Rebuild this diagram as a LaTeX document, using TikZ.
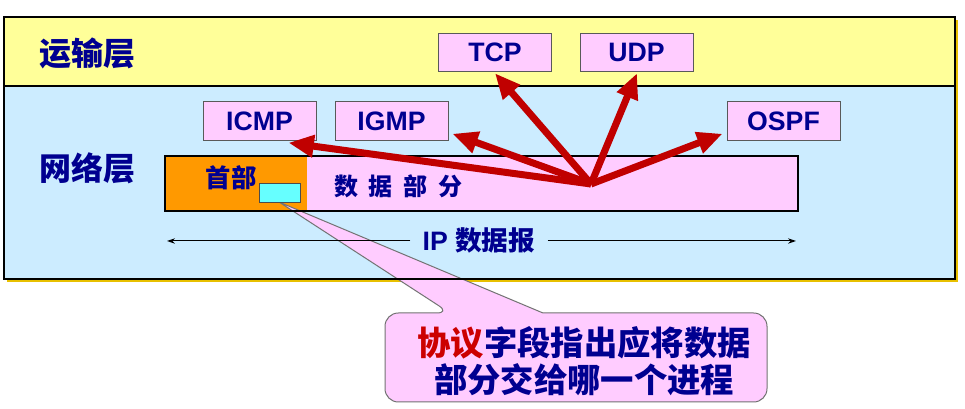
\documentclass[tikz,border=0pt]{standalone}
\usepackage{fontspec}
\setmainfont{Liberation Sans}
\newfontfamily\cjk{Noto Sans CJK SC}
\usetikzlibrary{arrows.meta,calc}
\definecolor{bandyellow}{HTML}{FFFF99}
\definecolor{bandblue}{HTML}{CCECFF}
\definecolor{boxpink}{HTML}{FFCCFF}
\definecolor{hdrorange}{HTML}{FF9900}
\definecolor{fieldcyan}{HTML}{66FFFF}
\definecolor{arrowred}{HTML}{C00000}
\definecolor{navy}{HTML}{000090}
\definecolor{textred}{HTML}{CC0000}
\definecolor{shadowgold}{HTML}{E8C000}
\begin{document}
\begin{tikzpicture}[x=0.75pt,y=-0.75pt,
  protobox/.style={draw=black!65, line width=0.75pt, fill=boxpink, minimum width=84.75pt, minimum height=28.9pt, inner sep=0pt, font=\fontsize{20}{24}\selectfont\bfseries, text=navy},
  layerlbl/.style={font=\cjk\bfseries\fontsize{24}{28}\selectfont, text=navy, inner sep=0pt},
  redarrow/.style={draw=arrowred, line width=5.25pt, -{Triangle[length=19pt,width=16pt]}},
  cjktext/.style={text=navy, inner sep=0pt},
]
\useasboundingbox (0,0) rectangle (965,409);
\fill[white] (0,0) rectangle (965,409);
% frame backgrounds
\fill[shadowgold] (7,20) rectangle (958,282);
\fill[bandyellow] (4,17) rectangle (955,86);
\fill[bandblue] (4,86) rectangle (955,279);
% layer labels
\node[layerlbl] (transport) at (88,53) {运输层};
\node[layerlbl] (network) at (88,168) {网络层};
% datagram fills
\node[fill=hdrorange, minimum width=106.5pt, minimum height=40.5pt, inner sep=0pt, anchor=north west] (hdr) at (165,156) {};
\node[fill=boxpink, minimum width=367.5pt, minimum height=40.5pt, inner sep=0pt, anchor=north west] (data) at (307,156) {};
\node[cjktext, font=\cjk\bfseries\fontsize{19}{22}\selectfont] (hdrtext) at (231,178) {首部};
\node[cjktext, anchor=west, font=\cjk\bfseries\fontsize{18}{22}\selectfont] (datatext) at (334,186.5) {数\hspace{8pt}据\hspace{8pt}部\hspace{8pt}分};
% callout
\coordinate (tip) at (279,202);
\draw[fill=boxpink, draw=black!55, line width=0.75pt, rounded corners=10pt]
  (543,313) -- (767,313) -- (767,402) -- (385,402) -- (385,313) -- (450,313) [sharp corners] -- (tip) -- cycle;
\node[cjktext, font=\cjk\bfseries\fontsize{25}{27.75}\selectfont, align=center] (note) at (584,361.5)
  {{\color{textred}协议}字段指出应将数据\\部分交给哪一个进程};
% protocol field
\node[draw=black!70, line width=0.75pt, fill=fieldcyan, minimum width=30.75pt, minimum height=14.25pt, inner sep=0pt] (field) at (279.5,193.5) {};
% outlines
\draw[line width=1.5pt] (hdr.north west) rectangle (data.south east);
\draw[line width=1.5pt] (4,17) rectangle (955,279);
\draw[line width=1.5pt] (4,86) -- (955,86);
% IP datagram span
\node[text=navy, inner xsep=9pt, inner ysep=0pt, font=\fontsize{20}{24}\selectfont\bfseries] (iplbl) at (479,240) {IP {\cjk 数据报}};
\coordinate (ipL) at (167,241);
\coordinate (ipR) at (796,241);
\draw[line width=0.75pt, -{Stealth[length=6pt,width=4pt]}] (iplbl.west |- ipL) -- (ipL);
\draw[line width=0.75pt, -{Stealth[length=6pt,width=4pt]}] (iplbl.east |- ipR) -- (ipR);
% protocol boxes
\node[protobox] (tcp) at (495,52.5) {TCP};
\node[protobox] (udp) at (636.5,52.5) {UDP};
\node[protobox] (icmp) at (259.5,121) {ICMP};
\node[protobox] (igmp) at (391.5,121) {IGMP};
\node[protobox] (ospf) at (783.5,121) {OSPF};
% red arrows
\coordinate (hub) at (591,184);
\draw[redarrow] (hub) -- ($(icmp.south east)+(-28,2)$);
\draw[redarrow] (hub) -- ($(igmp.south east)+(4,-7)$);
\draw[redarrow] (hub) -- ($(tcp.south)+(0,1)$);
\draw[redarrow] (hub) -- ($(udp.south)+(0.5,1)$);
\draw[redarrow] (hub) -- ($(ospf.south west)+(-4,-7)$);
\end{tikzpicture}
\end{document}
